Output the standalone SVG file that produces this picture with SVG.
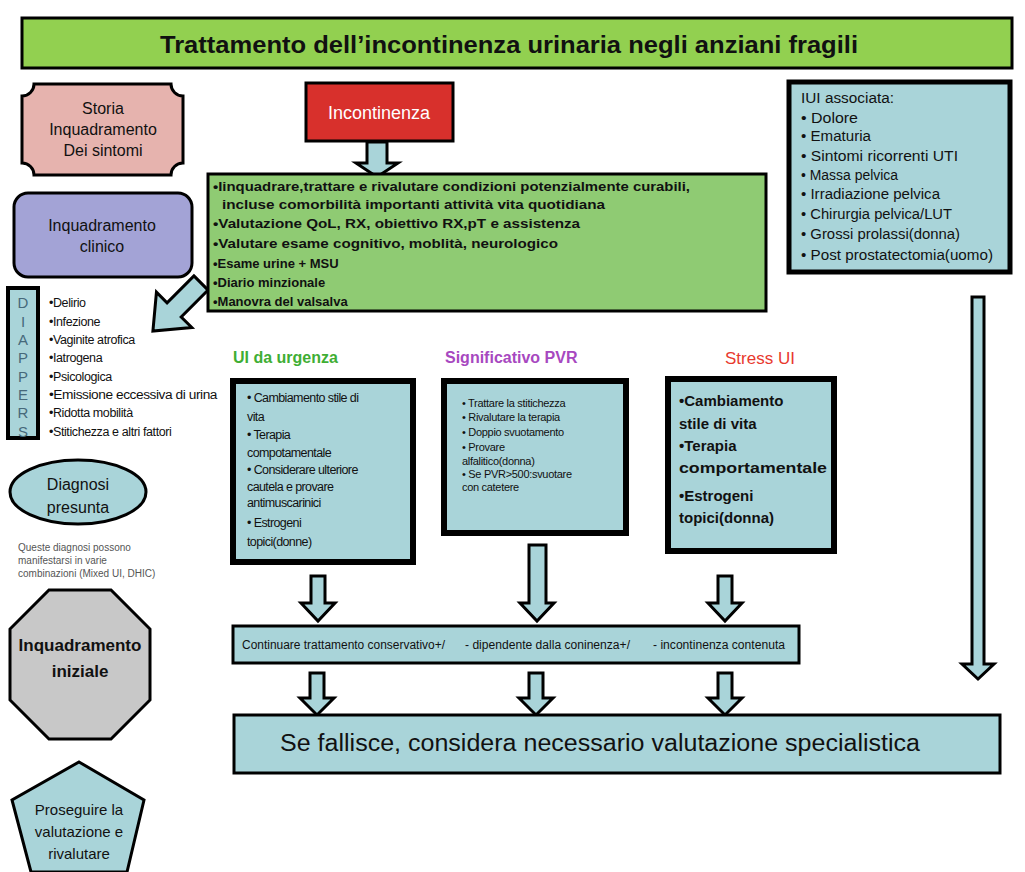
<svg xmlns="http://www.w3.org/2000/svg" width="1025" height="872" viewBox="0 0 1025 872">
  <style>
    text { font-family: "Liberation Sans", Arial, sans-serif; fill: #111; }
    .box { stroke: #000; stroke-width: 3; }
    .teal { fill: #a9d4d9; }
    .heavy { stroke: #000; stroke-width: 6; }
    .arrow { fill: #a9d4d9; stroke: #000; stroke-width: 3; stroke-linejoin: miter; }
    .c { text-anchor: middle; }
    .b { font-weight: bold; }
    .gb { font-size: 13px; font-weight: bold; }
    .iui { font-size: 14px; }
    .dl { font-size: 12.5px; letter-spacing: -0.4px; }
    .u1 { font-size: 12.5px; letter-spacing: -0.6px; }
    .u2 { font-size: 11px; letter-spacing: -0.3px; }
    .u3 { font-size: 15px; font-weight: bold; }
    .letter { font-size: 15px; fill: #46697a; text-anchor: middle; }
    .note { font-size: 10px; fill: #555; }
  </style>
  <defs>
    <!-- generic block arrow pointing down, origin at top centre of the shaft -->
    <path id="blockArrow" d="M -7 0 H 7 V 30 H 17 L 0 48 L -17 30 H -7 Z"/>
  </defs>

  <!-- title bar -->
  <g id="title">
    <rect x="22" y="18" width="990" height="50" fill="#92d050" class="box"/>
    <text x="509" y="53" class="c b" font-size="23" textLength="698" lengthAdjust="spacingAndGlyphs">Trattamento dell’incontinenza urinaria negli anziani fragili</text>
  </g>

  <!-- connectors -->
  <g id="connectors">
    <!-- Incontinenza -> assessment -->
    <path class="arrow" d="M 367 142 H 387 V 163 H 398 L 377 177 L 356 163 H 367 Z"/>
    <!-- assessment -> DIAPPERS list -->
    <path class="arrow" transform="translate(201,283) rotate(45)" d="M -10 0 H 10 V 38 H 25 L 0 68 L -25 38 H -10 Z"/>
    <!-- treatment columns -> conservative box -->
    <path class="arrow" d="M 311 576 H 325 V 603 H 335 L 318 621 L 301 603 H 311 Z"/>
    <path class="arrow" d="M 529 545 H 546 V 603 H 554 L 537 621 L 520 603 H 529 Z"/>
    <path class="arrow" d="M 718 576 H 732 V 603 H 742 L 725 621 L 708 603 H 718 Z"/>
    <!-- conservative box -> specialist evaluation -->
    <path class="arrow" d="M 310 673 H 324 V 698 H 334 L 317 715 L 300 698 H 310 Z"/>
    <path class="arrow" d="M 529 673 H 543 V 698 H 553 L 536 715 L 519 698 H 529 Z"/>
    <path class="arrow" d="M 718 673 H 732 V 698 H 742 L 725 715 L 708 698 H 718 Z"/>
    <!-- associated IUI -> specialist evaluation -->
    <path class="arrow" d="M 972 297 H 984 V 664 H 994 L 978 679 L 962 664 H 972 Z"/>
  </g>

  <!-- left column -->
  <g id="storia">
    <path d="M 34 84 H 171 A 12 12 0 0 0 183 96 V 163 A 12 12 0 0 0 171 175 H 34 A 12 12 0 0 0 22 163 V 96 A 12 12 0 0 0 34 84 Z" fill="#e6b3ae" class="box"/>
    <text x="103" y="114" class="c" font-size="16">Storia</text>
    <text x="103" y="135" class="c" font-size="16">Inquadramento</text>
    <text x="103" y="156" class="c" font-size="16">Dei sintomi</text>
  </g>

  <g id="clinico">
    <rect x="14" y="193" width="178" height="84" rx="14" fill="#a3a3d6" class="box"/>
    <text x="102" y="231" class="c" font-size="16">Inquadramento</text>
    <text x="102" y="252" class="c" font-size="16">clinico</text>
  </g>

  <g id="diappers">
    <rect x="8" y="288" width="30" height="150" class="teal" stroke="#000" stroke-width="4"/>
    <text x="23" y="308" class="letter">D</text>
    <text x="23" y="327" class="letter">I</text>
    <text x="23" y="345" class="letter">A</text>
    <text x="23" y="363" class="letter">P</text>
    <text x="23" y="382" class="letter">P</text>
    <text x="23" y="400" class="letter">E</text>
    <text x="23" y="418" class="letter">R</text>
    <text x="23" y="437" class="letter">S</text>
    <text x="49" y="307" class="dl">•Delirio</text>
    <text x="49" y="326" class="dl">•Infezione</text>
    <text x="49" y="344" class="dl">•Vaginite atrofica</text>
    <text x="49" y="362" class="dl">•Iatrogena</text>
    <text x="49" y="381" class="dl">•Psicologica</text>
    <text x="49" y="399" class="dl" textLength="168" lengthAdjust="spacingAndGlyphs">•Emissione eccessiva di urina</text>
    <text x="49" y="417" class="dl">•Ridotta mobilità</text>
    <text x="49" y="436" class="dl">•Stitichezza e altri fattori</text>
  </g>

  <g id="diagnosi">
    <ellipse cx="78" cy="492" rx="68" ry="32" class="teal box"/>
    <text x="78" y="490" class="c" font-size="16">Diagnosi</text>
    <text x="78" y="513" class="c" font-size="16">presunta</text>
    <text x="18" y="551" class="note">Queste diagnosi possono</text>
    <text x="18" y="564" class="note">manifestarsi in varie</text>
    <text x="18" y="577" class="note">combinazioni (Mixed UI, DHIC)</text>
  </g>

  <g id="iniziale">
    <polygon points="49,590 111,590 150,629 150,700 111,739 49,739 10,700 10,629" fill="#c8c8c8" class="box"/>
    <text x="80" y="651" class="c b" font-size="17">Inquadramento</text>
    <text x="80" y="677" class="c b" font-size="17">iniziale</text>
  </g>

  <g id="proseguire">
    <polygon points="79,762 144,800 127,872 31,872 12,800" class="teal box"/>
    <text x="79" y="815" class="c" font-size="15">Proseguire la</text>
    <text x="79" y="837" class="c" font-size="15">valutazione e</text>
    <text x="79" y="859" class="c" font-size="15">rivalutare</text>
  </g>

  <!-- top row -->
  <g id="incontinenza">
    <rect x="306" y="83" width="147" height="58" fill="#d8302c" class="box"/>
    <text x="379" y="119" class="c" font-size="18" style="fill:#fff">Incontinenza</text>
  </g>

  <g id="valutazione">
    <rect x="208" y="174" width="558" height="137" fill="#8fcb73" class="box"/>
    <text x="213" y="191" class="gb" textLength="477" lengthAdjust="spacingAndGlyphs">•Iinquadrare,trattare e rivalutare condizioni potenzialmente curabili,</text>
    <text x="222" y="209" class="gb" textLength="383" lengthAdjust="spacingAndGlyphs">incluse comorbilità importanti attività vita quotidiana</text>
    <text x="213" y="228" class="gb" textLength="367" lengthAdjust="spacingAndGlyphs">•Valutazione QoL, RX, obiettivo RX,pT e assistenza</text>
    <text x="213" y="248" class="gb" textLength="345" lengthAdjust="spacingAndGlyphs">•Valutare esame cognitivo, moblità, neurologico</text>
    <text x="213" y="268" class="gb">•Esame urine + MSU</text>
    <text x="213" y="287" class="gb">•Diario minzionale</text>
    <text x="213" y="306" class="gb">•Manovra del valsalva</text>
  </g>

  <g id="iui">
    <rect x="789" y="82" width="221" height="190" class="teal" stroke="#000" stroke-width="5"/>
    <text x="801" y="103" class="iui" textLength="93" lengthAdjust="spacingAndGlyphs">IUI associata:</text>
    <text x="801" y="123" class="iui" textLength="57" lengthAdjust="spacingAndGlyphs">• Dolore</text>
    <text x="801" y="141" class="iui" textLength="70" lengthAdjust="spacingAndGlyphs">• Ematuria</text>
    <text x="801" y="161" class="iui" textLength="157" lengthAdjust="spacingAndGlyphs">• Sintomi ricorrenti UTI</text>
    <text x="801" y="180" class="iui" textLength="97" lengthAdjust="spacingAndGlyphs">• Massa pelvica</text>
    <text x="801" y="199" class="iui" textLength="139" lengthAdjust="spacingAndGlyphs">• Irradiazione pelvica</text>
    <text x="801" y="219" class="iui" textLength="151" lengthAdjust="spacingAndGlyphs">• Chirurgia pelvica/LUT</text>
    <text x="801" y="239" class="iui" textLength="159" lengthAdjust="spacingAndGlyphs">• Grossi prolassi(donna)</text>
    <text x="801" y="260" class="iui" textLength="192" lengthAdjust="spacingAndGlyphs">• Post prostatectomia(uomo)</text>
  </g>

  <!-- treatment columns -->
  <g id="urgenza">
    <text x="233" y="363" class="b" font-size="16" style="fill:#3fae34">UI da urgenza</text>
    <rect x="233" y="381" width="180" height="181" class="teal heavy"/>
    <text x="247" y="402" class="u1">• Cambiamento stile di</text>
    <text x="247" y="421" class="u1">vita</text>
    <text x="247" y="439" class="u1">• Terapia</text>
    <text x="247" y="457" class="u1">compotamentale</text>
    <text x="247" y="474" class="u1">• Considerare ulteriore</text>
    <text x="247" y="491" class="u1">cautela e provare</text>
    <text x="247" y="507" class="u1">antimuscarinici</text>
    <text x="247" y="527" class="u1">• Estrogeni</text>
    <text x="247" y="546" class="u1">topici(donne)</text>
  </g>

  <g id="pvr">
    <text x="445" y="363" class="b" font-size="16" style="fill:#a748c0">Significativo PVR</text>
    <rect x="444" y="381" width="182" height="152" class="teal heavy"/>
    <text x="462" y="407" class="u2">• Trattare la stitichezza</text>
    <text x="462" y="421" class="u2">• Rivalutare la terapia</text>
    <text x="462" y="436" class="u2">• Doppio svuotamento</text>
    <text x="462" y="451" class="u2">• Provare</text>
    <text x="462" y="465" class="u2">alfalitico(donna)</text>
    <text x="462" y="478" class="u2">• Se PVR&gt;500:svuotare</text>
    <text x="462" y="491" class="u2">con catetere</text>
  </g>

  <g id="stress">
    <text x="725" y="364" font-size="17" style="fill:#e8392e">Stress UI</text>
    <rect x="668" y="379" width="166" height="172" class="teal heavy"/>
    <text x="679" y="406" class="u3">•Cambiamento</text>
    <text x="679" y="429" class="u3">stile di vita</text>
    <text x="679" y="451" class="u3">•Terapia</text>
    <text x="679" y="473" class="u3" textLength="148" lengthAdjust="spacingAndGlyphs">comportamentale</text>
    <text x="679" y="501" class="u3">•Estrogeni</text>
    <text x="679" y="523" class="u3">topici(donna)</text>
  </g>

  <!-- outcome rows -->
  <g id="conservativo">
    <rect x="233" y="626" width="566" height="37" class="teal box"/>
    <text x="242" y="649" font-size="12" textLength="203" lengthAdjust="spacingAndGlyphs">Continuare trattamento conservativo+/</text>
    <text x="465" y="649" font-size="12" textLength="165" lengthAdjust="spacingAndGlyphs">- dipendente dalla coninenza+/</text>
    <text x="653" y="649" font-size="12" textLength="132" lengthAdjust="spacingAndGlyphs">- incontinenza contenuta</text>
  </g>

  <g id="specialistica">
    <rect x="234" y="715" width="766" height="58" class="teal box"/>
    <text x="600" y="751" class="c" font-size="23" textLength="640" lengthAdjust="spacingAndGlyphs">Se fallisce, considera necessario valutazione specialistica</text>
  </g>
</svg>
